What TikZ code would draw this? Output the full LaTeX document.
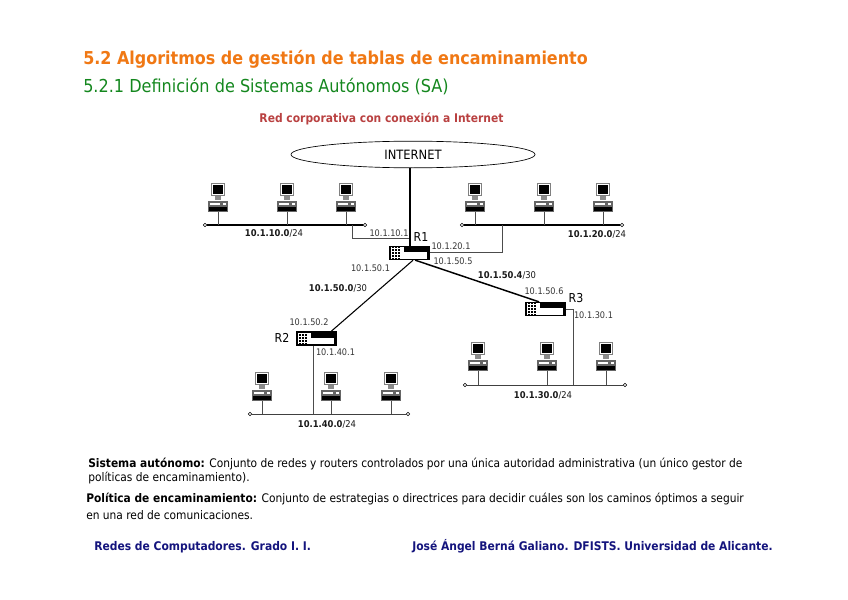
\documentclass[tikz,border=0pt]{standalone}
\usepackage{fontspec}
\setmainfont{DejaVu Sans}[FakeStretch=0.9]
\usetikzlibrary{shapes.geometric}
\definecolor{ttlorange}{RGB}{240,120,20}
\definecolor{ttlgreen}{RGB}{20,135,30}
\definecolor{ttlred}{RGB}{185,65,65}
\definecolor{footnavy}{RGB}{20,20,125}
\tikzset{
  pc/.pic={
    \fill[black!50] (-7,-29) rectangle (7,-16);
    \fill[white] (-6,-28) rectangle (6,-17);
    \fill[black] (-5,-27) rectangle (5,-18);
    \fill[black!45] (-3,-16) rectangle (3,-12);
    \fill[black!60] (-10,-11) rectangle (10,0);
    \fill[white] (-8,-9) rectangle (2,-7);
    \fill[white] (5,-9) rectangle (8,-7);
    \fill[black] (-9,-5) rectangle (9,-1);
    \coordinate (-foot) at (0,0);
  },
  router/.style={draw, line width=1.2pt, fill=white, inner sep=0pt,
    minimum width=29.5pt, minimum height=9.5pt,
    path picture={
      \begin{scope}[shift={(path picture bounding box.center)}]
        \fill[black] (-21,-8) rectangle (-10,8);
        \foreach \g in {-18,-15,-12} {
          \draw[white, line width=0.4pt] (\g,-8) -- (\g,8);
        }
        \foreach \g in {-5,-2,1,4} {
          \draw[white, line width=0.4pt] (-21,\g) -- (-10,\g);
        }
        \fill[black] (-6,-8) rectangle (21,-1); % upper band
        \fill[black] (17,-8) rectangle (21,8);
      \end{scope}
    }},
  lanend/.style={circle, draw, fill=white, line width=0.4pt, inner sep=0pt, minimum size=2.6pt},
  lanbus/.style={line width=1.3pt},
  lanthin/.style={line width=0.7pt, black!75},
  drop/.style={line width=0.6pt, black!70},
  addr/.style={font=\fontsize{6.8}{8}\selectfont, text=black!80, inner sep=0pt},
  netlbl/.style={font=\fontsize{7}{8}\selectfont, text=black!90, inner sep=0pt},
  rname/.style={font=\fontsize{9.2}{10}\selectfont, inner sep=0pt},
  bodyline/.style={font=\fontsize{8.87}{10}\selectfont, anchor=west, inner sep=0pt},
  footline/.style={font=\fontsize{8.95}{10}\selectfont\bfseries, text=footnavy, anchor=west, inner sep=0pt}
}
\begin{document}
\begin{tikzpicture}[x=0.75pt, y=-0.75pt]
  \useasboundingbox (0,0) rectangle (848,599);

  % Titles
  \node[font=\fontsize{13.3}{15}\selectfont\bfseries, text=ttlorange, anchor=west, inner sep=0pt] (ttlMain) at (83,59) {5.2 Algoritmos de gestión de tablas de encaminamiento};
  \node[font=\fontsize{13.4}{15}\selectfont, text=ttlgreen, anchor=west, inner sep=0pt] (ttlSub) at (83,87) {5.2.1 Definición de Sistemas Autónomos (SA)};
  \node[font=\fontsize{8.95}{10}\selectfont\bfseries, text=ttlred, inner sep=0pt] (ttlNet) at (381.5,119) {Red corporativa con conexión a Internet};

  % Internet cloud and routers
  \node[ellipse, draw, line width=0.5pt, minimum width=183pt, minimum height=20pt, inner sep=0pt, font=\fontsize{9.6}{10}\selectfont] (net) at (413,154.5) {INTERNET};
  \node[router] (rA) at (409.5,253) {};
  \node[router] (rB) at (316.5,338.5) {};
  \node[router] (rC) at (545.5,309) {};
  \node[rname] (rAname) at (421,237) {R1};
  \node[rname] (rBname) at (282,338) {R2};
  \node[rname] (rCname) at (576,298) {R3};

  % LAN buses: name/left/right/y
  \foreach \n/\l/\r/\y/\s in {A/205/365/225/lanbus, B/462/622/225/lanbus, C/465/625/385/lanthin, D/250/408/414/lanthin} {
    \node[lanend] (lan\n l) at (\l,\y) {};
    \node[lanend] (lan\n r) at (\r,\y) {};
    \draw[\s] (lan\n l) -- (lan\n r);
  }

  % Computers: bus/x of the foot/top of the machine's base
  \foreach \n/\x/\y in {A/218/212, A/287/212, A/346/212, B/475/212, B/544/212, B/603/212, C/478/371, C/547/371, C/606/371, D/262/401, D/331/401, D/391/401} {
    \pic (pc\n\x) at (\x,\y) {pc};
    \draw[drop] (pc\n\x-foot) -- (pc\n\x-foot |- lan\n l);
  }

  % Links from the routers
  \draw[line width=1.5pt] (rA.north |- net.south) -- (rA.north);
  \draw[line width=0.8pt] (rA.-63) -- (rB.26);
  \draw[line width=1.1pt] (rA.-52) -- (rC.132);
  \coordinate (tapA) at (352,225);
  \coordinate (tapAend) at (409,238);
  \coordinate (tapB) at (502,225);
  \coordinate (tapC) at (573,385);
  \coordinate (tapD) at (313,414);
  \draw[drop] (tapA) |- (tapAend);
  \draw[drop] (rA.east |- 0,252.5) -| (tapB);
  \draw[drop] (rC.east) -| (tapC);
  \draw[drop] (rB.south -| tapD) -- (tapD);

  % Addresses
  \node[addr] (ipAa) at (389,233) {10.1.10.1};
  \node[addr] (ipAb) at (451,246.5) {10.1.20.1};
  \node[addr] (ipAc) at (453,261) {10.1.50.5};
  \node[addr] (ipAd) at (370.5,268) {10.1.50.1};
  \node[addr] (ipBa) at (309,322) {10.1.50.2};
  \node[addr] (ipBb) at (335.5,352) {10.1.40.1};
  \node[addr] (ipCa) at (544,291) {10.1.50.6};
  \node[addr] (ipCb) at (593.5,315) {10.1.30.1};

  % Networks
  \node[netlbl] (netA) at (274,233.5) {\textbf{10.1.10.0}/24};
  \node[netlbl] (netB) at (597,234) {\textbf{10.1.20.0}/24};
  \node[netlbl] (netC) at (543,395) {\textbf{10.1.30.0}/24};
  \node[netlbl] (netD) at (327,424) {\textbf{10.1.40.0}/24};
  \node[netlbl] (netE) at (338,288) {\textbf{10.1.50.0}/30};
  \node[netlbl] (netF) at (507,275) {\textbf{10.1.50.4}/30};

  % Definitions
  \node[bodyline] (defA) at (88,464) {\textbf{Sistema autónomo:} Conjunto de redes y routers controlados por una única autoridad administrativa (un único gestor de};
  \node[bodyline] (defAb) at (88,478) {políticas de encaminamiento).};
  \node[bodyline] (defB) at (86,499) {\textbf{Política de encaminamiento:} Conjunto de estrategias o directrices para decidir cuáles son los caminos óptimos a seguir};
  \node[bodyline] (defBb) at (86,515) {en una red de comunicaciones.};

  % Footer
  \node[footline] (footL) at (94,547) {Redes de Computadores. Grado I. I.};
  \node[footline] (footR) at (412,546) {José Ángel Berná Galiano. DFISTS. Universidad de Alicante.};
\end{tikzpicture}
\end{document}
